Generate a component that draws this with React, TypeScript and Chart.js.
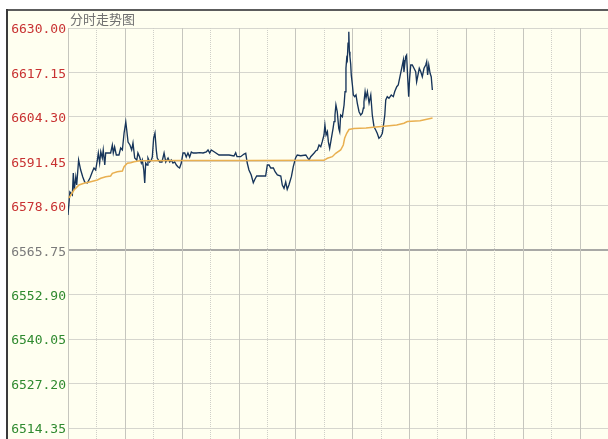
import React, { useEffect, useRef } from 'react';
import { Chart, registerables } from 'chart.js';

Chart.register(...registerables);

const TITLE = '分时走势图';
const yTickValues = [6630.0, 6617.15, 6604.3, 6591.45, 6578.6, 6565.75, 6552.9, 6540.05, 6527.2, 6514.35];
const PREV_CLOSE = 6565.75;
const Y_MIN = 6511.17;
const Y_MAX = 6630.0;
const SESSION_MINUTES = 285;
const GRID_STEP = 15;

// minutes since open (vertices of the price trace)
const priceTime = [
  0, 1, 2.3, 2.8, 3.3, 4.1, 4.6, 5.6, 6.7, 7.8,
  8.8, 10.2, 11.6, 12.8, 13.7, 14.6, 15.5, 16, 16.7, 17.3,
  18.1, 18.6, 19.4, 19.9, 22.5, 23.4, 23.9, 24.6, 25.5, 26.9,
  27.8, 28.7, 29.6, 30.5, 31, 31.7, 32.7, 33.6, 34.3, 35.2,
  36.3, 36.9, 37.8, 38.7, 39.2, 40, 40.5, 41, 41.7, 42.2,
  43.1, 44, 44.5, 45.2, 45.9, 46.6, 47.1, 48.4, 49.6, 50.7,
  51.6, 52.8, 53.7, 54.5, 55.4, 56.3, 57.2, 58.1, 58.9, 59.8,
  60.7, 61.6, 62.4, 63.3, 64.2, 65.1, 66, 67.7, 69.5, 71.3,
  73, 73.9, 74.8, 75.6, 77.1, 79.7, 85, 87.6, 88.5, 89.2,
  91.1, 92.9, 93.8, 94.6, 95.5, 96.7, 97.8, 98.7, 99.6, 104.3,
  105.2, 106.1, 107, 108.4, 109.3, 110.5, 112.3, 113.1, 114, 114.9,
  115.7, 116.6, 117.9, 118.9, 120.1, 121, 122.8, 125.5, 127.2, 128.1,
  129.8, 130.7, 131.6, 132.5, 133.4, 134.2, 135.1, 135.6, 136.2, 136.9,
  137.4, 138.1, 139, 139.9, 140.4, 140.9, 141.4, 142.1, 142.9, 143.4,
  143.9, 144.8, 145.7, 146.2, 146.7, 147.1, 147.4, 147.8, 148.2, 148.5,
  148.8, 149.2, 149.5, 150.1, 150.6, 151.3, 152, 152.7, 153.6, 154.5,
  155.3, 155.9, 156.2, 156.8, 157.3, 158, 158.9, 159.8, 160.6, 161.5,
  162.4, 163.2, 164.1, 165, 165.9, 166.4, 167.2, 167.7, 168.5, 169.4,
  170.6, 171.7, 172.4, 173.5, 174.3, 175.2, 176.1, 177, 177.3, 178.2,
  178.7, 179.3, 179.8, 180.3, 180.9, 181.7, 182.6, 183.5, 184, 184.7,
  185.4, 186.2, 187, 187.9, 188.8, 189.3, 189.8, 190.4, 191.1, 191.7,
  192.3,
];

const priceValue = [
  6575.93, 6582.58, 6581.72, 6588.08, 6583.16, 6586.92, 6584.61, 6591.83, 6588.94, 6586.92,
  6585.47, 6585.18, 6586.63, 6588.37, 6589.52, 6588.94, 6591.83, 6593.86, 6590.97, 6594.23,
  6592.41, 6594.73, 6590.39, 6593.86, 6593.86, 6596.17, 6593.86, 6595.59, 6593.28, 6593.28,
  6595.3, 6594.73, 6599.64, 6602.82, 6600.51, 6597.04, 6596.17, 6594.73, 6596.75, 6592.41,
  6591.83, 6593.86, 6592.7, 6590.97, 6591.83, 6588.94, 6585.18, 6590.97, 6590.39, 6592.41,
  6591.26, 6591.83, 6592.7, 6598.2, 6599.64, 6594.73, 6592.41, 6591.26, 6591.26, 6593.86,
  6591.26, 6592.41, 6591.26, 6591.83, 6590.97, 6591.26, 6590.39, 6589.81, 6589.52, 6590.97,
  6593.86, 6593.86, 6592.7, 6593.86, 6592.7, 6594.15, 6593.86, 6593.86, 6593.95, 6593.86,
  6594.15, 6594.73, 6593.86, 6594.73, 6594.23, 6593.28, 6593.28, 6592.99, 6593.95, 6592.8,
  6592.8, 6593.57, 6593.77, 6590.97, 6588.94, 6587.5, 6585.27, 6586.34, 6587.21, 6587.21,
  6590.39, 6590.39, 6589.52, 6589.52, 6588.45, 6587.5, 6587.21, 6584.61, 6583.65, 6585.47,
  6583.36, 6584.61, 6587.01, 6589.9, 6592.41, 6593.28, 6593.08, 6593.28, 6591.83, 6592.8,
  6593.77, 6594.44, 6594.73, 6596.17, 6595.68, 6597.13, 6599.06, 6601.95, 6599.06, 6600.02,
  6597.13, 6595.22, 6598.11, 6601.0, 6602.91, 6604.85, 6607.74, 6605.8, 6601.0, 6600.02,
  6604.85, 6604.35, 6607.74, 6611.58, 6618.35, 6621.24, 6620.75, 6625.58, 6628.93, 6623.15,
  6621.7, 6619.59, 6616.41, 6613.52, 6610.63, 6610.14, 6610.63, 6608.23, 6605.8, 6604.85,
  6605.34, 6606.87, 6608.69, 6611.58, 6609.76, 6611.58, 6608.32, 6610.63, 6604.85, 6601.46,
  6600.51, 6599.55, 6598.11, 6598.57, 6599.55, 6601.46, 6604.85, 6609.18, 6610.14, 6609.67,
  6610.63, 6610.14, 6611.58, 6613.03, 6613.52, 6615.92, 6618.35, 6620.75, 6617.28, 6621.7,
  6622.19, 6615.46, 6610.14, 6615.46, 6619.3, 6619.3, 6618.35, 6617.37, 6614.47, 6616.41,
  6618.35, 6617.37, 6615.92, 6618.35, 6619.3, 6620.26, 6616.41, 6619.3, 6616.9, 6615.92,
  6612.07,
];

// average price line
const avgTime = [
  0.5, 3.2, 5.8, 8.4, 12, 15.5, 17.3, 19.9, 22.5, 23.4,
  26, 28.7, 29.6, 31.3, 33.1, 34.8, 38, 59.1, 96.1, 135.1,
  136.9, 139.5, 141.3, 143.9, 145.3, 146, 147.1, 148.3, 150.9, 157.3,
  161.1, 168.2, 173.5, 177.3, 179.1, 185.8, 192.4,
];
const avgValue = [
  6580.85, 6583.16, 6584.61, 6585.1, 6585.56, 6586.05, 6586.54, 6587.01, 6587.21, 6587.99,
  6588.45, 6588.65, 6589.9, 6590.88, 6591.05, 6591.34, 6591.63, 6591.69, 6591.69, 6591.75,
  6592.33, 6592.8, 6593.77, 6594.73, 6596.17, 6598.11, 6599.55, 6600.65, 6600.94, 6601.09,
  6601.29, 6601.67, 6601.95, 6602.45, 6602.97, 6603.2, 6603.98,
];

const isMid = (v: number) => Math.abs(v - PREV_CLOSE) < 0.001;

const bgPlugin = {
  id: 'panelBackground',
  beforeDraw(chart: any) {
    const { ctx, width, height, chartArea } = chart;
    ctx.save();
    ctx.fillStyle = '#ffffff';
    ctx.fillRect(0, 0, width, height);
    ctx.fillStyle = '#fffff0';
    ctx.fillRect(7, 9, width - 7, height - 9);
    ctx.fillStyle = '#5c5c5c';
    ctx.fillRect(7, 9, width - 7, 2);
    ctx.fillStyle = '#3a3a3a';
    ctx.fillRect(6, 9, 2, height - 9);
    ctx.fillStyle = '#707070';
    ctx.font = '13px "Noto Sans CJK SC", sans-serif';
    ctx.textBaseline = 'middle';
    ctx.textAlign = 'left';
    ctx.fillText(TITLE, chartArea.left + 2, 19);
    ctx.restore();
  },
};

const vGridPlugin = {
  id: 'timeGrid',
  beforeDatasetsDraw(chart: any) {
    const { ctx, chartArea } = chart;
    const xs = chart.scales.x;
    ctx.save();
    for (let m = xs.min; m <= xs.max; m += GRID_STEP) {
      const px = Math.round(xs.getPixelForValue(m)) + 0.5;
      const solid = m % (GRID_STEP * 2) === 0;
      ctx.beginPath();
      ctx.lineWidth = 1;
      ctx.strokeStyle = solid ? '#c6c6be' : '#cfcfc8';
      ctx.setLineDash(solid ? [] : [1, 1]);
      ctx.moveTo(px, chartArea.top);
      ctx.lineTo(px, chartArea.bottom);
      ctx.stroke();
    }
    ctx.restore();
  },
};

export default function App() {
  const ref = useRef<HTMLCanvasElement | null>(null);

  useEffect(() => {
    if (!ref.current) return;
    const priceData = priceTime.map((t, i) => ({ x: t, y: priceValue[i] }));
    const avgData = avgTime.map((t, i) => ({ x: t, y: avgValue[i] }));
    const chart = new Chart(ref.current, {
      type: 'line',
      data: {
        datasets: [
          {
            label: '均价',
            data: avgData,
            borderColor: '#e9b050',
            borderWidth: 1.5,
            pointRadius: 0,
            tension: 0,
            fill: false,
          },
          {
            label: '价格',
            data: priceData,
            borderColor: '#17355a',
            borderWidth: 1.35,
            pointRadius: 0,
            tension: 0,
            fill: false,
          },
        ],
      },
      options: {
        animation: false,
        responsive: false,
        events: [],
        layout: { padding: { top: 28, left: 0, right: 0, bottom: 0 } },
        plugins: {
          legend: { display: false },
          tooltip: { enabled: false },
          title: { display: false },
        },
        scales: {
          x: { type: 'linear', min: 0, max: SESSION_MINUTES, display: false },
          y: {
            type: 'linear',
            position: 'left',
            min: Y_MIN,
            max: Y_MAX,
            afterBuildTicks: (s: any) => {
              s.ticks = yTickValues.map((v) => ({ value: v }));
            },
            afterFit: (s: any) => {
              s.width = 68;
              s.paddingTop = 0;
              s.paddingBottom = 0;
            },
            border: { display: false },
            grid: {
              drawTicks: false,
              color: (c: any) => (isMid(c.tick?.value) ? '#a9a9a6' : '#d6d6ce'),
              lineWidth: (c: any) => (isMid(c.tick?.value) ? 2 : 1),
            },
            ticks: {
              padding: 2,
              labelOffset: 2,
              autoSkip: false,
              font: { family: '"DejaVu Sans Mono", monospace', size: 13 },
              color: (c: any) => {
                const v = c.tick?.value;
                if (isMid(v)) return '#7a7a7a';
                return v > PREV_CLOSE ? '#c83232' : '#2f8a2f';
              },
              callback: (v: any) => Number(v).toFixed(2),
            },
          },
        },
      },
      plugins: [bgPlugin, vGridPlugin],
    } as any);
    return () => chart.destroy();
  }, []);

  return (
    <div style={{ position: 'absolute', left: 0, top: 0, width: 608, height: 439 }}>
      <canvas ref={ref} width={608} height={439} style={{ display: 'block', width: 608, height: 439 }} />
    </div>
  );
}
